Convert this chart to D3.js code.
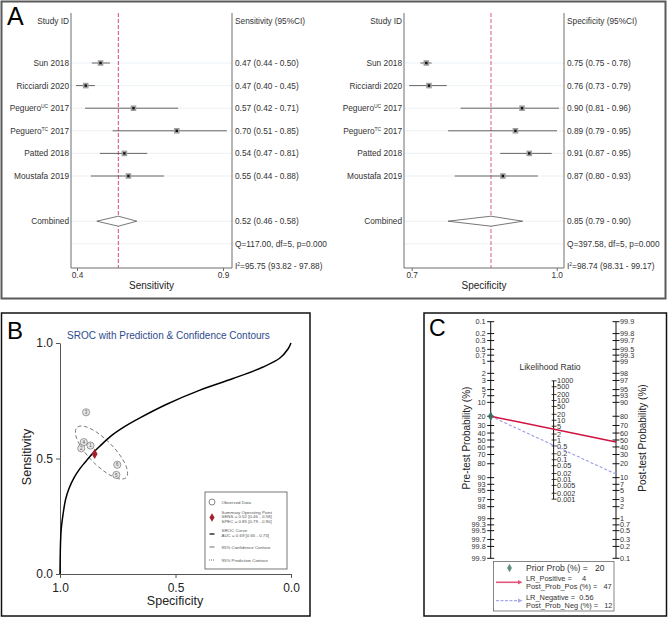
<!DOCTYPE html>
<html><head><meta charset="utf-8">
<script src="https://cdn.jsdelivr.net/npm/d3@7"></script>
<style>body{margin:0;background:#fff}svg{display:block;font-family:"Liberation Sans",Arial,sans-serif}</style>
</head><body>
<svg id="c" width="668" height="618"></svg>
<script>
// ---------- DATA ----------
const studyName = ["Sun", "Ricciardi", "Peguero", "Peguero", "Patted", "Moustafa"];
const studySup  = ["", "", "UC", "TC", "", ""];
const studyYear = ["2018", "2020", "2017", "2017", "2018", "2019"];
const studyNum  = ["6", "5", "4", "3", "2", "1"];

const sensEst = [0.473, 0.429, 0.571, 0.700, 0.544, 0.556];
const sensLo  = [0.447, 0.400, 0.427, 0.509, 0.471, 0.444];
const sensHi  = [0.501, 0.456, 0.704, 0.849, 0.612, 0.662];
const sensText = ["0.47 (0.44 - 0.50)", "0.47 (0.40 - 0.45)", "0.57 (0.42 - 0.71)", "0.70 (0.51 - 0.85)", "0.54 (0.47 - 0.81)", "0.55 (0.44 - 0.88)"];
const sensPooled = [0.526, 0.462, 0.581];
const sensPooledText = "0.52 (0.46 - 0.58)";
const sensQ = "Q=117.00, df=5, p=0.000";
const sensI2 = "=95.75 (93.82 - 97.88)";
const sensTicks = [0.4, 0.9];

const specEst = [0.752, 0.756, 0.897, 0.887, 0.908, 0.868];
const specLo  = [0.743, 0.726, 0.804, 0.785, 0.864, 0.795];
const specHi  = [0.760, 0.783, 0.953, 0.950, 0.942, 0.921];
const specText = ["0.75 (0.75 - 0.78)", "0.76 (0.73 - 0.79)", "0.90 (0.81 - 0.96)", "0.89 (0.79 - 0.95)", "0.91 (0.87 - 0.95)", "0.87 (0.80 - 0.93)"];
const specPooled = [0.850, 0.785, 0.898];
const specPooledText = "0.85 (0.79 - 0.90)";
const specQ = "Q=397.58, df=5, p=0.000";
const specI2 = "=98.74 (98.31 - 99.17)";
const specTicks = [0.7, 1.0];

// SROC curve (specificity, sensitivity)
const srocSpec = [1.000, 0.998, 0.995, 0.987, 0.976, 0.961, 0.939, 0.913, 0.892, 0.856, 0.827, 0.776, 0.719, 0.654, 0.538, 0.394, 0.251, 0.121, 0.048, 0.013, 0.000];
const srocSens = [0.000, 0.126, 0.191, 0.257, 0.322, 0.370, 0.417, 0.457, 0.483, 0.525, 0.554, 0.600, 0.639, 0.676, 0.735, 0.796, 0.846, 0.896, 0.935, 0.974, 1.000];
// 95% confidence contour (specificity, sensitivity)
const confSpec = [0.714, 0.748, 0.801, 0.859, 0.907, 0.932, 0.926, 0.893, 0.840, 0.782, 0.734, 0.709];
const confSens = [0.417, 0.413, 0.439, 0.488, 0.547, 0.601, 0.635, 0.639, 0.613, 0.564, 0.505, 0.451];
const summarySpec = 0.85, summarySens = 0.52;
const srocTicks = [0, 0.5, 1];
const srocLegend = [["Observed Data"], ["Summary Operating Point", "SENS = 0.52 [0.46 - 0.58]", "SPEC = 0.85 [0.79 - 0.90]"], ["SROC Curve", "AUC = 0.69 [0.65 - 0.73]"], ["95% Confidence Contour"], ["95% Prediction Contour"]];

// Fagan nomogram
const probTicks = [0.1, 0.2, 0.3, 0.5, 0.7, 1, 2, 3, 5, 7, 10, 20, 30, 40, 50, 60, 70, 80, 90, 93, 95, 97, 98, 99, 99.3, 99.5, 99.7, 99.8, 99.9];
const lrTicks = [1000, 500, 200, 100, 50, 20, 10, 5, 2, 1, 0.5, 0.2, 0.1, 0.05, 0.02, 0.01, 0.005, 0.002, 0.001];
const priorProb = 20;
const lrPos = 4, postPos = 47;
const lrNeg = 0.56, postNeg = 12;

// ---------- DRAW ----------
const svg = d3.select("#c");
const F = "Liberation Sans, Arial, sans-serif";

// ===== Panel A =====
svg.append("rect").attr("x", 1.5).attr("y", 1.5).attr("width", 664).attr("height", 297)
  .attr("fill", "none").attr("stroke", "#5a5a5a").attr("stroke-width", 2);
svg.append("text").attr("x", 7).attr("y", 25).attr("font-size", 25).text("A");

const yRow = d3.scaleLinear().domain([0, 9]).range([63, 266.4]);
const rows = d3.range(studyName.length);

function forest(cfg) {
  const g = svg.append("g");
  const x = cfg.x;
  const fs = 8.3;
  [0, 1, 2, 3, 4, 5, 7, 8].forEach(r => {
    g.append("line").attr("x1", cfg.left).attr("x2", cfg.right).attr("y1", yRow(r)).attr("y2", yRow(r))
      .attr("stroke", "#e6eef3").attr("stroke-width", 0.8);
  });
  [cfg.left, cfg.right].forEach(xx => g.append("line").attr("x1", xx).attr("x2", xx).attr("y1", 13).attr("y2", 268)
    .attr("stroke", "#6e6e6e").attr("stroke-width", 1));
  g.append("line").attr("x1", x(cfg.pooled[0])).attr("x2", x(cfg.pooled[0])).attr("y1", 13).attr("y2", 268)
    .attr("stroke", cfg.pink).attr("stroke-width", 1).attr("stroke-dasharray", "4,2");
  const ax = g.append("g").attr("transform", "translate(0,268)")
    .call(d3.axisBottom(cfg.tick).tickValues(cfg.ticks).tickSize(3).tickFormat(d3.format(".1f")));
  ax.select(".domain").remove();
  g.append("line").attr("x1", cfg.left).attr("x2", cfg.right).attr("y1", 268).attr("y2", 268).attr("stroke", "#6e6e6e");
  ax.selectAll("line").attr("stroke", "#6e6e6e");
  ax.selectAll("text").attr("font-size", 8.3).attr("font-family", F).attr("fill", "#333").attr("dy", "0.5em");
  g.append("text").attr("x", (cfg.left + cfg.right) / 2).attr("y", 289).attr("text-anchor", "middle")
    .attr("font-size", 10).attr("fill", "#222").text(cfg.title);
  g.append("text").attr("x", cfg.left - 2).attr("y", 24).attr("text-anchor", "end").attr("font-size", fs).attr("fill", "#333").text("Study ID");
  g.append("text").attr("x", cfg.right + 3).attr("y", 24).attr("font-size", fs).attr("fill", "#333").text(cfg.header);
  rows.forEach(i => {
    const t = g.append("text").attr("x", cfg.left - 2).attr("y", yRow(i) + 3).attr("text-anchor", "end")
      .attr("font-size", fs).attr("fill", "#333");
    t.append("tspan").text(studyName[i]);
    if (studySup[i]) t.append("tspan").attr("font-size", 5).attr("dy", -3).text(studySup[i]);
    t.append("tspan").attr("dy", studySup[i] ? 3 : 0).text(" " + studyYear[i]);
    g.append("text").attr("x", cfg.right + 3).attr("y", yRow(i) + 3).attr("font-size", fs).attr("fill", "#333").text(cfg.text[i]);
    g.append("line").attr("x1", x(cfg.lo[i])).attr("x2", x(cfg.hi[i])).attr("y1", yRow(i)).attr("y2", yRow(i))
      .attr("stroke", "#555").attr("stroke-width", 0.9);
    g.append("rect").attr("x", x(cfg.est[i]) - 2.8).attr("y", yRow(i) - 2.8).attr("width", 5.6).attr("height", 5.6).attr("fill", "#a0a0a0");
    g.append("rect").attr("x", x(cfg.est[i]) - 1.2).attr("y", yRow(i) - 1.2).attr("width", 2.4).attr("height", 2.4).attr("fill", "#111");
  });
  const yc = yRow(7);
  g.append("text").attr("x", cfg.left - 2).attr("y", yc + 3).attr("text-anchor", "end").attr("font-size", fs).attr("fill", "#333").text("Combined");
  g.append("path").attr("d", d3.line()([[x(cfg.pooled[1]), yc], [x(cfg.pooled[0]), yc - 5], [x(cfg.pooled[2]), yc], [x(cfg.pooled[0]), yc + 5]]) + "Z")
    .attr("fill", "#fff").attr("stroke", "#555").attr("stroke-width", 0.8);
  g.append("text").attr("x", cfg.right + 3).attr("y", yc + 3).attr("font-size", fs).attr("fill", "#333").text(cfg.pooledText);
  g.append("text").attr("x", cfg.right + 3).attr("y", yRow(8) + 3).attr("font-size", fs).attr("fill", "#333").text(cfg.q);
  const ti = g.append("text").attr("x", cfg.right + 3).attr("y", yRow(9) + 3).attr("font-size", fs).attr("fill", "#333");
  ti.append("tspan").text("I");
  ti.append("tspan").attr("font-size", 5).attr("dy", -3).text("2");
  ti.append("tspan").attr("dy", 3).text(cfg.i2);
}

forest({
  left: 71, right: 232,
  x: d3.scaleLinear().domain([0.4, 0.9]).range([76, 244]),
  tick: d3.scaleLinear().domain([0.4, 0.9]).range([77, 223]),
  ticks: sensTicks, est: sensEst, lo: sensLo, hi: sensHi, text: sensText,
  pooled: sensPooled, pooledText: sensPooledText, q: sensQ, i2: sensI2,
  header: "Sensitivity (95%CI)", title: "Sensitivity", pink: "#e2457c"
});
forest({
  left: 404, right: 564,
  x: d3.scaleLinear().domain([0.7, 1.0]).range([392, 590]),
  tick: d3.scaleLinear().domain([0.7, 1.0]).range([411.7, 556.7]),
  ticks: specTicks, est: specEst, lo: specLo, hi: specHi, text: specText,
  pooled: specPooled, pooledText: specPooledText, q: specQ, i2: specI2,
  header: "Specificity (95%CI)", title: "Specificity", pink: "#d9607a"
});

// ===== Panel B =====
svg.append("rect").attr("x", 1.5).attr("y", 313).attr("width", 308.5).attr("height", 303)
  .attr("fill", "none").attr("stroke", "#111").attr("stroke-width", 1.5);
svg.append("text").attr("x", 7).attr("y", 339).attr("font-size", 24).text("B");
const bx = d3.scaleLinear().domain([1, 0]).range([60, 291]);
const by = d3.scaleLinear().domain([0, 1]).range([574, 343]);
const bg = svg.append("g");
bg.append("text").attr("x", 67).attr("y", 339).attr("font-size", 10).attr("fill", "#2d4b8c")
  .text("SROC with Prediction & Confidence Contours");
const bxa = bg.append("g").attr("transform", "translate(0,574)").call(d3.axisBottom(bx).tickValues(srocTicks).tickSize(4).tickSizeOuter(0).tickFormat(d3.format(".1f")));
const bya = bg.append("g").attr("transform", "translate(60,0)").call(d3.axisLeft(by).tickValues(srocTicks).tickSize(4).tickSizeOuter(0).tickFormat(d3.format(".1f")));
[bxa, bya].forEach(a => {
  a.selectAll("text").attr("font-size", 12).attr("font-family", F).attr("fill", "#222");
  a.selectAll("line,path").attr("stroke", "#555");
});
bxa.selectAll("text").attr("dy", "0.9em");
bg.append("text").attr("x", 175).attr("y", 605).attr("text-anchor", "middle").attr("font-size", 12.5).attr("fill", "#222").text("Specificity");
bg.append("text").attr("transform", "translate(31,457) rotate(-90)").attr("text-anchor", "middle").attr("font-size", 12.5).attr("fill", "#222").text("Sensitivity");
bg.append("path").datum(d3.range(confSpec.length))
  .attr("d", d3.line().x(i => bx(confSpec[i])).y(i => by(confSens[i])).curve(d3.curveCardinalClosed))
  .attr("fill", "none").attr("stroke", "#555").attr("stroke-width", 0.8).attr("stroke-dasharray", "4,2.5");
bg.append("path").datum(d3.range(srocSpec.length))
  .attr("d", d3.line().x(i => bx(srocSpec[i])).y(i => by(srocSens[i])).curve(d3.curveCatmullRom.alpha(0.5)))
  .attr("fill", "none").attr("stroke", "#000").attr("stroke-width", 1.5);
rows.forEach(i => {
  bg.append("circle").attr("cx", bx(specEst[i])).attr("cy", by(sensEst[i])).attr("r", 3.6)
    .attr("fill", "#e6e6e6").attr("stroke", "#777").attr("stroke-width", 0.7);
  bg.append("text").attr("x", bx(specEst[i])).attr("y", by(sensEst[i]) + 1.7).attr("text-anchor", "middle")
    .attr("font-size", 4.5).attr("fill", "#555").text(studyNum[i]);
});
bg.append("path").attr("transform", `translate(${bx(summarySpec)},${by(summarySens)})`)
  .attr("d", d3.symbol(d3.symbolDiamond, 30)).attr("fill", "#a3202e");
const lg = bg.append("g");
lg.append("rect").attr("x", 205).attr("y", 492).attr("width", 82).attr("height", 77).attr("fill", "#fff").attr("stroke", "#555").attr("stroke-width", 0.8);
const legY = [502, 516.5, 533, 547, 560];
srocLegend.forEach((lines, k) => {
  const n = lines.length;
  lines.forEach((s, j) => {
    lg.append("text").attr("x", 221.5).attr("y", legY[k] + (j - (n - 1) / 2) * 4.4 + 1.6)
      .attr("font-size", 4.4).attr("fill", "#555").text(s);
  });
});
lg.append("circle").attr("cx", 212).attr("cy", legY[0]).attr("r", 3).attr("fill", "#fff").attr("stroke", "#555").attr("stroke-width", 0.7);
lg.append("path").attr("transform", `translate(212,${legY[1] + 1})`).attr("d", d3.symbol(d3.symbolDiamond, 22)).attr("fill", "#a3202e");
lg.append("line").attr("x1", 209.5).attr("x2", 214.5).attr("y1", legY[2] + 1).attr("y2", legY[2] + 1).attr("stroke", "#333").attr("stroke-width", 1.5);
lg.append("line").attr("x1", 209.5).attr("x2", 214.5).attr("y1", legY[3]).attr("y2", legY[3]).attr("stroke", "#333").attr("stroke-width", 0.7);
lg.append("line").attr("x1", 209).attr("x2", 215).attr("y1", legY[4]).attr("y2", legY[4]).attr("stroke", "#333").attr("stroke-width", 0.7).attr("stroke-dasharray", "1,1");

// ===== Panel C =====
svg.append("rect").attr("x", 424).attr("y", 313).attr("width", 242.5).attr("height", 303)
  .attr("fill", "none").attr("stroke", "#111").attr("stroke-width", 1.5);
svg.append("text").attr("x", 429).attr("y", 336).attr("font-size", 23).text("C");
const logit = p => Math.log(p / (1 - p));
const L = logit(0.999);
const preS = d3.scaleLinear().domain([-L, L]).range([321.7, 558.3]);
const postS = d3.scaleLinear().domain([L, -L]).range([321.7, 558.3]);
const lrS = d3.scaleLog().domain([1000, 0.001]).range([380.8, 499.2]);
const preY = p => preS(logit(p / 100));
const postY = p => postS(logit(p / 100));
const xPre = 490.7, xPost = 616, xLR = 553.6;
const cg = svg.append("g");
cg.append("line").attr("x1", xPre).attr("x2", xPre).attr("y1", preY(0.1)).attr("y2", preY(99.9)).attr("stroke", "#111");
cg.append("line").attr("x1", xPost).attr("x2", xPost).attr("y1", postY(99.9)).attr("y2", postY(0.1)).attr("stroke", "#111");
cg.append("line").attr("x1", xLR).attr("x2", xLR).attr("y1", lrS(1000)).attr("y2", lrS(0.001)).attr("stroke", "#111");
probTicks.forEach(p => {
  cg.append("line").attr("x1", xPre - 3.5).attr("x2", xPre + 3.5).attr("y1", preY(p)).attr("y2", preY(p)).attr("stroke", "#111");
  cg.append("text").attr("x", xPre - 5).attr("y", preY(p) + 2.6).attr("text-anchor", "end").attr("font-size", 7.3).attr("fill", "#333").text(String(p));
  cg.append("line").attr("x1", xPost - 3.5).attr("x2", xPost + 3.5).attr("y1", postY(p)).attr("y2", postY(p)).attr("stroke", "#111");
  cg.append("text").attr("x", xPost + 4).attr("y", postY(p) + 2.6).attr("font-size", 7.3).attr("fill", "#333").text(String(p));
});
lrTicks.forEach(v => {
  cg.append("line").attr("x1", xLR - 2).attr("x2", xLR + 3).attr("y1", lrS(v)).attr("y2", lrS(v)).attr("stroke", "#111").attr("stroke-width", 0.8);
  cg.append("text").attr("x", xLR + 3.5).attr("y", lrS(v) + 2.6).attr("font-size", 7.3).attr("fill", "#333").text(String(v));
});
cg.append("text").attr("x", 550).attr("y", 370).attr("text-anchor", "middle").attr("font-size", 8.6).attr("fill", "#333").text("Likelihood Ratio");
cg.append("text").attr("transform", "translate(470,438) rotate(-90)").attr("text-anchor", "middle").attr("font-size", 10).attr("fill", "#222").text("Pre-test Probability (%)");
cg.append("text").attr("transform", "translate(646,438) rotate(-90)").attr("text-anchor", "middle").attr("font-size", 10).attr("fill", "#222").text("Post-test Probability (%)");
cg.append("line").attr("x1", xPre).attr("y1", preY(priorProb)).attr("x2", xPost).attr("y2", postY(postNeg))
  .attr("stroke", "#9a9ae6").attr("stroke-width", 1.1).attr("stroke-dasharray", "3,2");
cg.append("line").attr("x1", xPre).attr("y1", preY(priorProb)).attr("x2", xPost).attr("y2", postY(postPos))
  .attr("stroke", "#d0103e").attr("stroke-width", 1.4);
cg.append("path").attr("transform", `translate(${xPre},${preY(priorProb)})`).attr("d", d3.symbol(d3.symbolDiamond, 26)).attr("fill", "#3f6f62");
const cl = cg.append("g");
cl.append("rect").attr("x", 493.5).attr("y", 561.5).attr("width", 120.5).attr("height", 49.5).attr("fill", "#fff").attr("stroke", "#666").attr("stroke-width", 0.8);
cl.append("path").attr("transform", "translate(509.5,568)").attr("d", d3.symbol(d3.symbolDiamond, 20)).attr("fill", "#5f8f80");
cl.append("text").attr("x", 526).attr("y", 571).attr("font-size", 8.6).attr("fill", "#333").attr("xml:space", "preserve").text("Prior Prob (%) =   " + priorProb);
cl.append("line").attr("x1", 496).attr("x2", 519).attr("y1", 582.3).attr("y2", 582.3).attr("stroke", "#e2557a").attr("stroke-width", 1.6);
cl.append("path").attr("d", "M518,580 L522.5,582.3 L518,584.6Z").attr("fill", "#e2557a");
cl.append("text").attr("x", 526).attr("y", 580.6).attr("font-size", 7.4).attr("fill", "#333").attr("xml:space", "preserve").text("LR_Positive =     " + lrPos);
cl.append("text").attr("x", 526).attr("y", 589).attr("font-size", 7.4).attr("fill", "#333").attr("xml:space", "preserve").text("Post_Prob_Pos (%) =   " + postPos);
cl.append("line").attr("x1", 496).attr("x2", 519).attr("y1", 600.7).attr("y2", 600.7).attr("stroke", "#a9a9ea").attr("stroke-width", 1.3).attr("stroke-dasharray", "3,1.5");
cl.append("path").attr("d", "M518,598.6 L522.5,600.7 L518,602.8Z").attr("fill", "#a9a9ea");
cl.append("text").attr("x", 526).attr("y", 599.6).attr("font-size", 7.4).attr("fill", "#333").attr("xml:space", "preserve").text("LR_Negative =  " + lrNeg);
cl.append("text").attr("x", 526).attr("y", 607.6).attr("font-size", 7.4).attr("fill", "#333").attr("xml:space", "preserve").text("Post_Prob_Neg (%) =   " + postNeg);
</script>
</body></html>
